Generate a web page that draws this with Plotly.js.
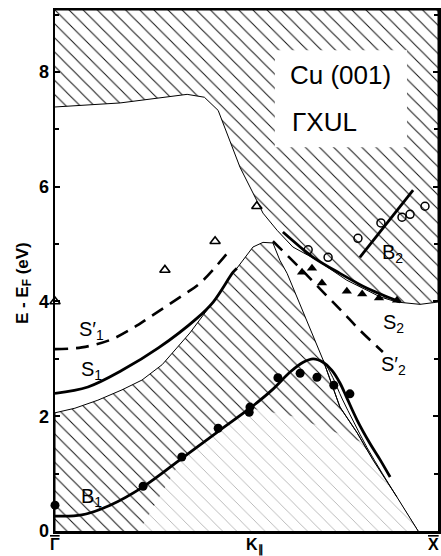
<!DOCTYPE html>
<html>
<head>
<meta charset="utf-8">
<script src="https://cdn.plot.ly/plotly-3.0.1.min.js"></script>
<style>
  html, body { margin: 0; padding: 0; background: #fff; }
  #chart { width: 441px; height: 556px; }
</style>
</head>
<body>
<div id="chart"></div>
<script>
// ---- data (k along Γ̄–X̄, 0..1 ; energy E - E_F in eV) ----
const E_MAX = 9.08;

// upper projected bulk band edge (hatched above)
const upperEdgeK = [0, 0.17, 0.345, 0.39, 0.426, 0.457, 0.483, 0.517, 0.543, 0.580, 0.621, 0.684, 0.762, 0.849, 0.893, 0.953, 1.0];
const upperEdgeE = [7.39, 7.46, 7.61, 7.56, 7.33, 6.81, 6.34, 5.89, 5.54, 5.24, 4.95, 4.72, 4.37, 4.08, 3.99, 3.95, 3.99];

// lower projected bulk band edge (hatched below)
const lowerEdgeK = [0, 0.052, 0.112, 0.175, 0.227, 0.280, 0.352, 0.397, 0.413, 0.465, 0.475, 0.517, 0.543, 0.569, 0.587, 0.606, 0.642, 0.679, 0.700, 0.744, 0.789, 0.830, 0.893, 0.948];
const lowerEdgeE = [2.06, 2.14, 2.28, 2.46, 2.63, 2.90, 3.45, 3.85, 3.99, 4.51, 4.58, 4.95, 5.03, 5.02, 4.72, 4.49, 3.92, 3.33, 2.98, 2.16, 1.71, 1.24, 0.59, 0.0];

// part of the lower band region drawn with faint hatching
const faintK = [0.22, 0.332, 0.423, 0.509, 0.62, 0.80, 0.893, 0.948];
const faintE = [0, 1.27, 1.72, 2.14, 2.0, 1.55, 0.59, 0];

// inner thin bulk line beside B1
const innerLineK = [0.705, 0.725, 0.750, 0.780, 0.815, 0.855, 0.893];
const innerLineE = [2.93, 2.68, 2.30, 1.90, 1.45, 1.00, 0.59];

// theory curves
const b1K = [0, 0.07, 0.144, 0.23, 0.332, 0.423, 0.509, 0.567, 0.614, 0.648, 0.674, 0.700, 0.723, 0.744, 0.762, 0.789, 0.822, 0.849, 0.875];
const b1E = [0.26, 0.28, 0.45, 0.77, 1.27, 1.72, 2.14, 2.46, 2.77, 2.94, 3.00, 2.94, 2.80, 2.58, 2.32, 1.93, 1.53, 1.24, 0.94];

const s1K = [0, 0.086, 0.175, 0.27, 0.371, 0.413, 0.465, 0.475];
const s1E = [2.40, 2.51, 2.80, 3.19, 3.71, 3.99, 4.51, 4.58];

const s1pK = [0, 0.07, 0.144, 0.204, 0.248, 0.334, 0.379, 0.457];
const s1pE = [3.17, 3.20, 3.33, 3.54, 3.73, 4.11, 4.32, 4.90];

const s2K = [0.595, 0.640, 0.674, 0.744, 0.815, 0.875, 0.901];
const s2E = [5.21, 4.95, 4.77, 4.49, 4.23, 4.06, 3.99];

const s2pK = [0.569, 0.640, 0.692, 0.749, 0.796, 0.856];
const s2pE = [5.05, 4.58, 4.22, 3.83, 3.50, 3.12];

const b2K = [0.796, 0.935];
const b2E = [4.77, 5.94];

// experimental points
const filledCircK = [0, 0.230, 0.331, 0.426, 0.509, 0.507, 0.582, 0.640, 0.684, 0.728, 0.770];
const filledCircE = [0.45, 0.78, 1.29, 1.79, 2.16, 2.07, 2.67, 2.75, 2.68, 2.54, 2.39];

const openCircK = [0.661, 0.713, 0.791, 0.851, 0.906, 0.927, 0.966];
const openCircE = [4.90, 4.77, 5.10, 5.37, 5.47, 5.52, 5.66];

const filledTriK = [0.645, 0.671, 0.697, 0.762, 0.802, 0.846, 0.893];
const filledTriE = [4.51, 4.58, 4.32, 4.18, 4.13, 4.06, 4.02];

const openTriK = [0, 0.287, 0.418, 0.527];
const openTriE = [4.00, 4.55, 5.05, 5.66];

// axis labels
const kPointPos = [0, 0.522, 1];
const kPointText = ['<span style="text-decoration:overline">Γ</span>', 'K<sub>\u2225</sub>', '<span style="text-decoration:overline">X</span>'];
const kPointAnchor = ['center', 'center', 'right'];
const kPointShift = [0, 0, 3];

// ---- build polygons ----
const upperPolyK = upperEdgeK.concat([1, 0]);
const upperPolyE = upperEdgeE.concat([E_MAX, E_MAX]);
const lowerPolyK = [0].concat(lowerEdgeK);
const lowerPolyE = [0].concat(lowerEdgeE);

const hatch = {shape: '\\', size: 10, solidity: 0.1, fgcolor: '#111', bgcolor: '#fff', fillmode: 'replace'};
const faintHatch = {shape: '\\', size: 10, solidity: 0.08, fgcolor: '#aaa', bgcolor: '#fff', fillmode: 'replace'};
const thin = {color: '#000', width: 1};
const FONT = 'Liberation Sans, Arial, sans-serif';

const traces = [
  {x: upperPolyK, y: upperPolyE, mode: 'lines', fill: 'toself', fillcolor: '#fff', fillpattern: hatch, line: thin, hoverinfo: 'skip'},
  {x: lowerPolyK, y: lowerPolyE, mode: 'lines', fill: 'toself', fillcolor: '#fff', fillpattern: hatch, line: thin, hoverinfo: 'skip'},
  {x: faintK, y: faintE, mode: 'none', fill: 'toself', fillcolor: '#fff', fillpattern: faintHatch, hoverinfo: 'skip'},
  {x: lowerEdgeK.slice(-6), y: lowerEdgeE.slice(-6), mode: 'lines', line: thin},
  {x: innerLineK, y: innerLineE, mode: 'lines', line: {color: '#000', width: 1, shape: 'spline'}},
  {x: b1K, y: b1E, mode: 'lines', line: {color: '#000', width: 2.8, shape: 'spline'}},
  {x: s1K, y: s1E, mode: 'lines', line: {color: '#000', width: 2.8, shape: 'spline'}},
  {x: s1pK, y: s1pE, mode: 'lines', line: {color: '#000', width: 2.6, dash: '13px,8px', shape: 'spline'}},
  {x: s2K, y: s2E, mode: 'lines', line: {color: '#000', width: 2.8, shape: 'spline'}},
  {x: s2pK, y: s2pE, mode: 'lines', line: {color: '#000', width: 2.6, dash: '13px,8px', shape: 'spline'}},
  {x: b2K, y: b2E, mode: 'lines', line: {color: '#000', width: 2.8}},
  {x: filledCircK, y: filledCircE, mode: 'markers', marker: {symbol: 'circle', size: 9, color: '#000'}, cliponaxis: false},
  {x: openCircK, y: openCircE, mode: 'markers', marker: {symbol: 'circle-open', size: 8, color: '#000', line: {width: 1.5}}},
  {x: filledTriK, y: filledTriE, mode: 'markers', marker: {symbol: 'triangle-up', size: 9, color: '#000'}},
  {x: openTriK, y: openTriE, mode: 'markers', marker: {symbol: 'triangle-up-open', size: 9, color: '#000', line: {width: 1.6}}, cliponaxis: false}
];

const labFont = {family: FONT, size: 20, color: '#000'};
function lab(text, x, y) {
  return {text: text, x: x, y: y, xref: 'x', yref: 'y', showarrow: false, font: labFont};
}
const kLabels = kPointPos.map((p, i) => ({
  text: kPointText[i], x: p, y: 0, xref: 'x', yref: 'paper', yanchor: 'top', yshift: -3,
  xanchor: kPointAnchor[i], xshift: kPointShift[i],
  showarrow: false, font: {family: FONT, size: 16, weight: 'bold', color: '#000'}
}));

const layout = {
  width: 441, height: 556,
  margin: {l: 55, r: 3, t: 10, b: 25},
  paper_bgcolor: '#fff', plot_bgcolor: '#fff',
  showlegend: false,
  xaxis: {
    range: [0, 1], showgrid: false, zeroline: false,
    showline: true, linecolor: '#000', linewidth: 2.5, mirror: true,
    ticks: '', showticklabels: false
  },
  yaxis: {
    range: [0, E_MAX], showgrid: false, zeroline: false,
    showline: true, linecolor: '#000', linewidth: 2.5, mirror: 'ticks',
    ticks: 'inside', ticklen: 5, tickwidth: 2, tickcolor: '#000',
    tick0: 0, dtick: 2,
    minor: {dtick: 1, ticks: 'inside', ticklen: 4, tickwidth: 2, tickcolor: '#000'},
    tickfont: {family: FONT, size: 18, weight: 'bold', color: '#000'}
  },
  shapes: [
    {type: 'rect', xref: 'x', yref: 'y', x0: 0.574, x1: 0.919, y0: 6.69, y1: 8.38, fillcolor: '#fff', line: {width: 0}, layer: 'above'}
  ],
  annotations: [
    {text: 'E - E<sub>F</sub> (eV)', x: 0, y: 4.32, xref: 'paper', yref: 'y', xshift: -44, textangle: -90,
     showarrow: false, font: {family: FONT, size: 17, weight: 'bold', color: '#000'}},
    {text: 'Cu (001)', x: 0.608, y: 7.94, xref: 'x', yref: 'y', xanchor: 'left', showarrow: false,
     font: {family: FONT, size: 26, color: '#000'}},
    {text: 'ΓXUL', x: 0.614, y: 7.13, xref: 'x', yref: 'y', xanchor: 'left', showarrow: false,
     font: {family: FONT, size: 26, color: '#000'}},
    lab('S′<sub>1</sub>', 0.094, 3.50),
    lab('S<sub>1</sub>', 0.094, 2.80),
    lab('B<sub>1</sub>', 0.094, 0.59),
    lab('S<sub>2</sub>', 0.883, 3.61),
    lab('S′<sub>2</sub>', 0.883, 2.89),
    lab('B<sub>2</sub>', 0.880, 4.83)
  ].concat(kLabels)
};

Plotly.newPlot('chart', traces, layout, {staticPlot: true, displayModeBar: false});
</script>
</body>
</html>
